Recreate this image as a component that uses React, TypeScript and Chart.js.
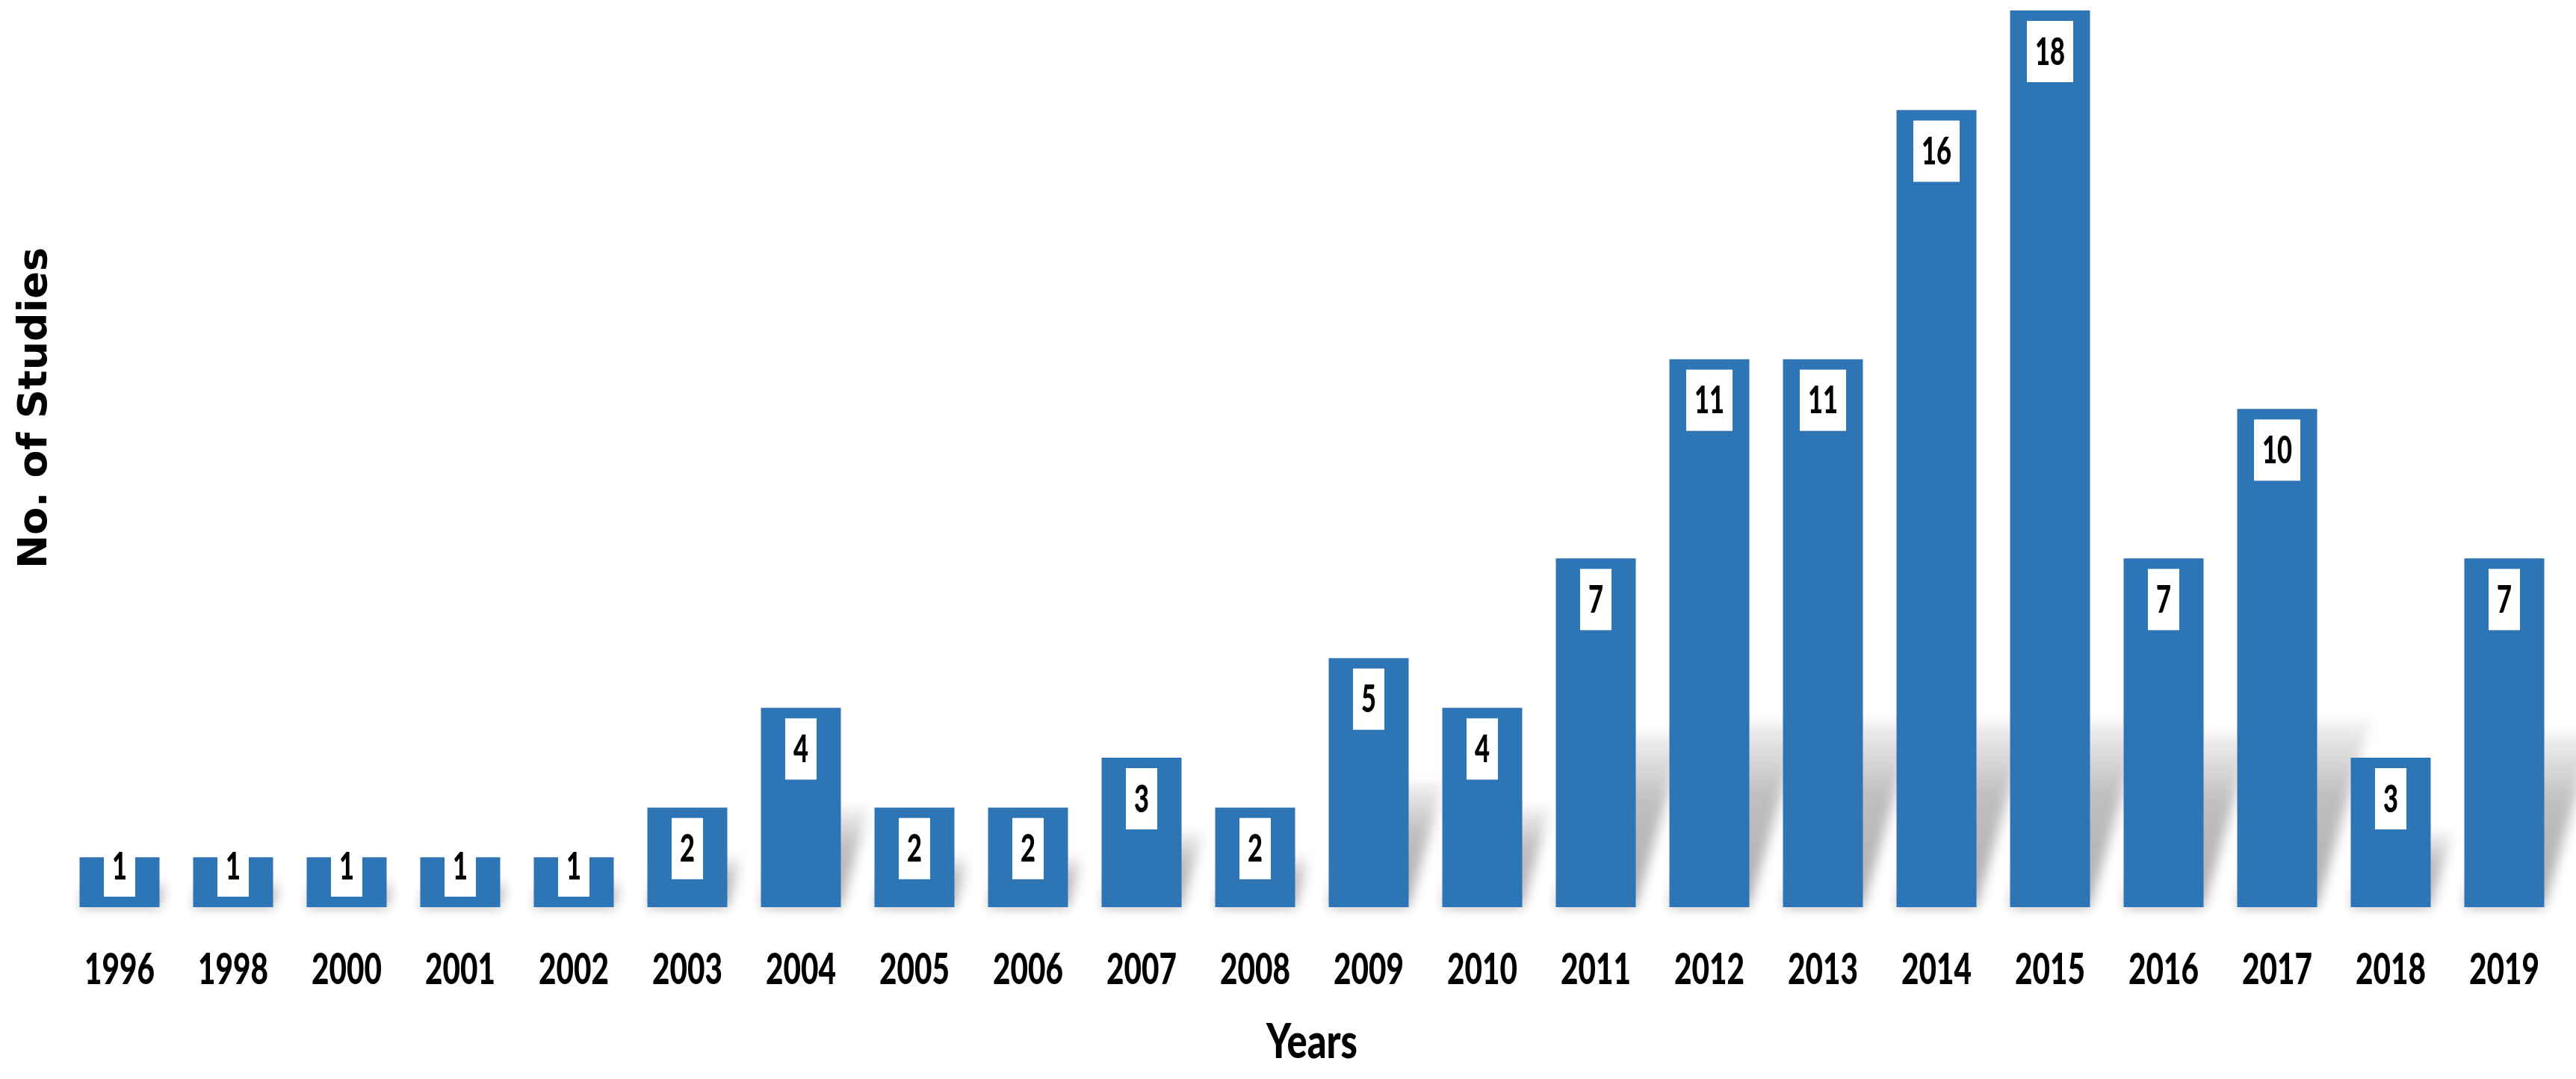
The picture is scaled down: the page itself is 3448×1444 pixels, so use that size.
import React, { useEffect, useRef } from 'react';
import { Chart, CategoryScale, registerables } from 'chart.js';

// ---- data ----
const years = [
  '1996', '1998', '2000', '2001', '2002', '2003', '2004', '2005', '2006', '2007', '2008',
  '2009', '2010', '2011', '2012', '2013', '2014', '2015', '2016', '2017', '2018', '2019',
];
const studies = [1, 1, 1, 1, 1, 2, 4, 2, 2, 3, 2, 5, 4, 7, 11, 11, 16, 18, 7, 10, 3, 7];
const yMin = 0;
const yMax = 18;
const xTitle = 'Years';
const yTitle = 'No. of Studies';

// ---- style ----
const W = 3448;
const H = 1444;
const BAR_COLOR = '#2E75B6';
const CONDENSED_FAMILY = "Lato, 'Liberation Sans', sans-serif";
const TICK_FONT = `900 58px ${CONDENSED_FAMILY}`;
const TICK_DIGIT_W = 23.5; // rendered width of one digit (the face is condensed)
const TICK_OFFSET = 84; // from axis top to label centre
const TITLE_FONT = `900 64px ${CONDENSED_FAMILY}`;
const TITLE_W = 122;
const TITLE_OFFSET = 181; // from axis top to title centre
const LABEL_FONT = `900 52px ${CONDENSED_FAMILY}`;
const LABEL_DIGIT_W = 20;

// Category axis that renders its labels and title in a condensed face
class NarrowCategoryScale extends CategoryScale {
  static id = 'narrowCategory';
  static defaults = {};

  drawLabels() {
    const self: any = this;
    const opts = self.options.ticks;
    if (!opts.display) return;
    const ctx = self.ctx;
    ctx.save();
    ctx.font = TICK_FONT;
    ctx.fillStyle = opts.color;
    ctx.textAlign = 'center';
    ctx.textBaseline = 'middle';
    const sx = TICK_DIGIT_W / ctx.measureText('0').width;
    self.ticks.forEach((tick: any, i: number) => {
      const x = self.getPixelForTick(i);
      ctx.save();
      ctx.translate(x, self.top + TICK_OFFSET);
      ctx.scale(sx, 1);
      ctx.fillText(String(tick.label), 0, 0);
      ctx.restore();
    });
    ctx.restore();
  }

  drawTitle() {
    const self: any = this;
    const t = self.options.title;
    if (!t.display) return;
    const ctx = self.ctx;
    ctx.save();
    ctx.font = TITLE_FONT;
    ctx.fillStyle = t.color;
    ctx.textAlign = 'center';
    ctx.textBaseline = 'middle';
    const text = String(t.text);
    const sx = TITLE_W / ctx.measureText(text).width;
    ctx.translate((self.left + self.right) / 2, self.top + TITLE_OFFSET);
    ctx.scale(sx, 1);
    ctx.fillText(text, 0, 0);
    ctx.restore();
  }
}

Chart.register(...registerables, NarrowCategoryScale);

const shadowPlugin = {
  id: 'barShadow',
  beforeDatasetsDraw(chart: any) {
    const meta = chart.getDatasetMeta(0);
    const ctx = chart.ctx;
    ctx.save();
    ctx.filter = 'blur(8px)';
    meta.data.forEach((bar: any) => {
      const { x, y, base, width } = bar.getProps(['x', 'y', 'base', 'width'], true);
      const h = base - y;
      const sh = Math.min(0.5 * h, 250);
      const d = sh / 3.5;
      const L = x - width / 2;
      const R = x + width / 2;
      const g = ctx.createLinearGradient(0, base, 0, base - sh);
      g.addColorStop(0, 'rgba(0,0,0,0.32)');
      g.addColorStop(0.6, 'rgba(0,0,0,0.25)');
      g.addColorStop(1, 'rgba(0,0,0,0.05)');
      ctx.fillStyle = g;
      ctx.beginPath();
      ctx.moveTo(L, base);
      ctx.lineTo(R, base);
      ctx.lineTo(R + d, base - sh);
      ctx.lineTo(L + d, base - sh);
      ctx.closePath();
      ctx.fill();
    });
    ctx.restore();
  },
};

const labelPlugin = {
  id: 'boxLabels',
  afterDatasetsDraw(chart: any) {
    const meta = chart.getDatasetMeta(0);
    const ctx = chart.ctx;
    ctx.save();
    ctx.font = LABEL_FONT;
    ctx.textAlign = 'center';
    ctx.textBaseline = 'middle';
    const sx = LABEL_DIGIT_W / ctx.measureText('0').width;
    meta.data.forEach((bar: any, i: number) => {
      const { x, y, base } = bar.getProps(['x', 'y', 'base'], true);
      const txt = String(studies[i]);
      const tw = ctx.measureText(txt).width * sx;
      const bw = tw + 22;
      const bh = 82;
      let top = y + 14;
      if (top + bh > base - 14) top = base - 14 - bh;
      ctx.fillStyle = '#ffffff';
      ctx.fillRect(x - bw / 2, top, bw, bh);
      ctx.save();
      ctx.translate(x, top + bh / 2 + 1);
      ctx.scale(sx, 1);
      ctx.fillStyle = '#000000';
      ctx.fillText(txt, 0, 0);
      ctx.restore();
    });
    ctx.restore();
  },
};

const yTitlePlugin = {
  id: 'yTitle',
  afterDraw(chart: any) {
    const ctx = chart.ctx;
    ctx.save();
    ctx.translate(48, 546);
    ctx.rotate(-Math.PI / 2);
    ctx.font = "bold 54px 'DejaVu Sans', Verdana, sans-serif";
    ctx.fillStyle = '#000000';
    ctx.textAlign = 'center';
    ctx.textBaseline = 'middle';
    ctx.fillText(yTitle, 0, 0);
    ctx.restore();
  },
};

export default function App() {
  const ref = useRef<HTMLCanvasElement | null>(null);

  useEffect(() => {
    if (!ref.current) return;
    const chart = new Chart(ref.current, {
      type: 'bar',
      data: {
        labels: years,
        datasets: [
          {
            data: studies,
            backgroundColor: BAR_COLOR,
            borderWidth: 0,
            barPercentage: 0.704,
            categoryPercentage: 1,
          },
        ],
      },
      options: {
        responsive: false,
        animation: false,
        devicePixelRatio: 1,
        layout: { padding: { left: 84, right: 20, top: 14, bottom: 12 } },
        plugins: {
          legend: { display: false },
          tooltip: { enabled: false },
        },
        scales: {
          x: {
            type: 'narrowCategory' as any,
            offset: true,
            grid: { display: false, drawTicks: false, offset: true },
            border: { display: false },
            ticks: {
              color: '#000000',
              padding: 0,
              maxRotation: 0,
              minRotation: 0,
              autoSkip: false,
              font: { family: CONDENSED_FAMILY, size: 40, weight: 'bold' },
              callback: (_v: any, i: number) => years[i],
            },
            title: {
              display: true,
              text: xTitle,
              color: '#000000',
              padding: 0,
              font: { family: CONDENSED_FAMILY, size: 40, weight: 'bold' },
            },
            afterFit: (axis: any) => {
              axis.height = 218;
            },
          },
          y: {
            type: 'linear',
            display: false,
            min: yMin,
            max: yMax,
          },
        },
      } as any,
      plugins: [shadowPlugin, labelPlugin, yTitlePlugin],
    });
    return () => chart.destroy();
  }, []);

  return (
    <div style={{ position: 'fixed', left: 0, top: 0, width: W, height: H, background: '#ffffff' }}>
      <canvas ref={ref} width={W} height={H} style={{ display: 'block', width: W, height: H }} />
    </div>
  );
}
